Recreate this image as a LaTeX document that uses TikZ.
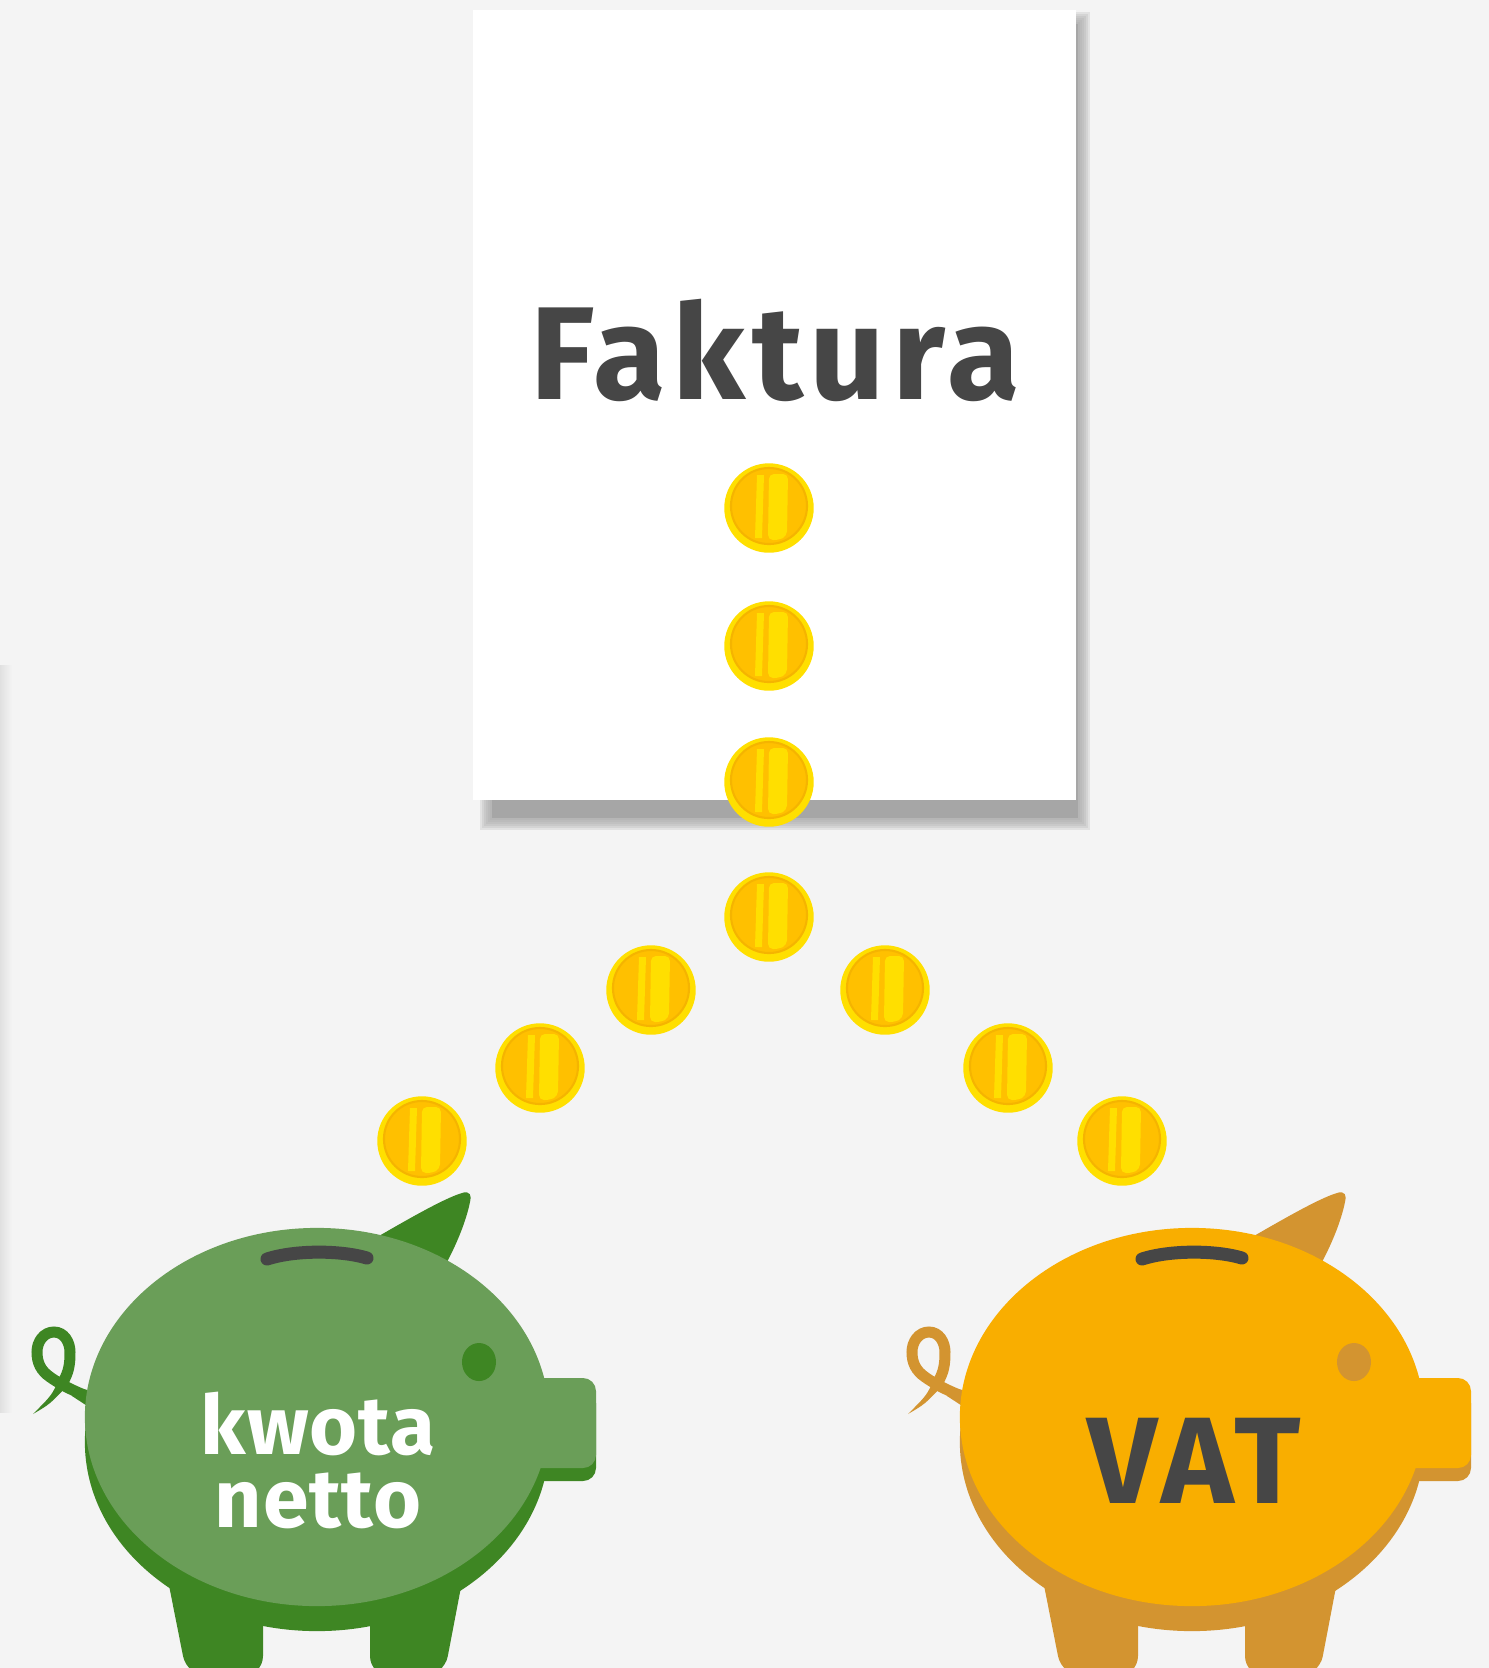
\documentclass[tikz,border=0pt]{standalone}
\usepackage{fontspec}
\setmainfont{Fira Sans}
\usepackage{tikz}
\usetikzlibrary{calc}

\definecolor{bg}{HTML}{F4F4F4}
\definecolor{shadowgray}{HTML}{A6A6A6}
\definecolor{inkgray}{HTML}{464646}
\definecolor{coinring}{HTML}{FFDF00}
\definecolor{coinface}{HTML}{FFC000}
\definecolor{coinedge}{HTML}{F5B400}
\definecolor{pigG}{HTML}{6A9E58}
\definecolor{pigGdark}{HTML}{3E8623}
\definecolor{pigO}{HTML}{F9AE00}
\definecolor{pigOdark}{HTML}{D39430}

\begin{document}
\begin{tikzpicture}[x=0.01cm, y=-0.01cm,
    pigtext/.style={inner sep=0pt, anchor=base, text=white, font=\bfseries\fontsize{23.4}{28}\selectfont\addfontfeature{LetterSpace=1}},
    slot/.style={draw=inkgray, line width=0.13cm, line cap=round},
    tail/.style={line width=0.11cm, line cap=round}]

    % Background
    \fill[bg] (0,0) rectangle (1489,1668);
    \useasboundingbox (0,0) rectangle (1489,1668);
    \clip (0,0) rectangle (1489,1668);

    % Edge of another sheet
    \shade[left color=black!12, right color=bg] (0,665) rectangle (12,1412);

    % Paper with soft shadow
    \foreach \k in {6,5,4,3,2,1} {
        \fill[shadowgray, opacity=0.22] (492-2*\k,24-2*\k) rectangle (1078+2*\k,818+2*\k);
    }
    \fill[shadowgray] (492,24) rectangle (1078,818);
    \fill[white] (473,10) rectangle (1076,800);
    \node[inner sep=0pt, anchor=base, text=inkgray, font=\bfseries\fontsize{37.6}{40}\selectfont\addfontfeature{LetterSpace=5}] (faktura) at (775,399) {Faktura};

    % Piggy banks
    \foreach \dx/\light/\dark in {0/pigG/pigGdark, 875/pigO/pigOdark} {
        \begin{scope}[shift={(\dx,0)}]
            % ear
            \fill[\dark] (372,1240) .. controls (410,1218) and (445,1198) .. (462,1193)
                .. controls (470,1190) and (472,1196) .. (470,1202)
                .. controls (466,1222) and (456,1245) .. (447,1262) -- (400,1270) -- cycle;
            % tail
            \draw[tail, \dark] (95,1400) to[out=155,in=-35] (50,1377) to[out=145,in=-90] (37,1352)
                to[out=90,in=180] (54,1332) to[out=0,in=90] (70,1352) to[out=-90,in=60] (63,1382);
            \fill[\dark] (72,1386) -- (95,1392) -- (95,1411) -- (72,1396) -- cycle;
            \fill[\dark] (59,1379) .. controls (52,1395) .. (33,1414) .. controls (50,1404) .. (67,1386) -- cycle;
            % legs
            \fill[\dark] (160,1540) [rounded corners=0.2cm] -- (187,1676) -- (263,1676) [sharp corners] -- (263,1540) -- cycle;
            \fill[\dark] (370,1540) [rounded corners=0.2cm] -- (370,1676) -- (444,1676) [sharp corners] -- (470,1540) -- cycle;
            % body and snout
            \fill[\dark] (317,1442) ellipse [x radius=2.32cm, y radius=1.89cm];
            \fill[\dark, rounded corners=0.13cm] (520,1390) rectangle (596,1481);
            \fill[\light, rounded corners=0.13cm] (520,1378) rectangle (596,1468);
            \fill[\light] (317,1417) ellipse [x radius=2.32cm, y radius=1.89cm];
            % eye and coin slot
            \fill[\dark] (479,1362) ellipse [x radius=0.17cm, y radius=0.19cm];
            \draw[slot] (267,1259) .. controls (295,1250) and (340,1250) .. (367,1258);
        \end{scope}
    }

    \node[pigtext] (kwota) at (318,1454) {kwota};
    \node[pigtext] (netto) at (318,1527) {netto};
    \node[inner sep=0pt, anchor=base, text=inkgray, font=\bfseries\fontsize{35}{40}\selectfont\addfontfeature{LetterSpace=5}] (vat) at (1194,1503) {VAT};

    % Coins
    \foreach \cx/\cy in {769/508, 769/646, 769/782, 769/917, 651/990, 540/1068, 422/1141, 885/990, 1008/1068, 1122/1141} {
        \fill[coinring] (\cx,\cy) circle (0.447cm);
        \fill[coinface] (\cx,\cy-2) circle (0.38cm);
        \begin{scope}
            \clip (\cx,\cy-2) circle (0.355cm);
            \fill[coinring] (\cx-12,\cy-33) -- (\cx-5,\cy-33) -- (\cx-7,\cy+30) -- (\cx-14,\cy+30) -- cycle;
            \fill[coinring, rounded corners=0.05cm] (\cx,\cy-34) -- (\cx+19,\cy-34) -- (\cx+18,\cy+28) -- (\cx+10,\cy+32) -- (\cx-1,\cy+32) -- cycle;
        \end{scope}
        \draw[coinedge, line width=0.6pt] (\cx,\cy-2) circle (0.38cm);
    }
\end{tikzpicture}
\end{document}
